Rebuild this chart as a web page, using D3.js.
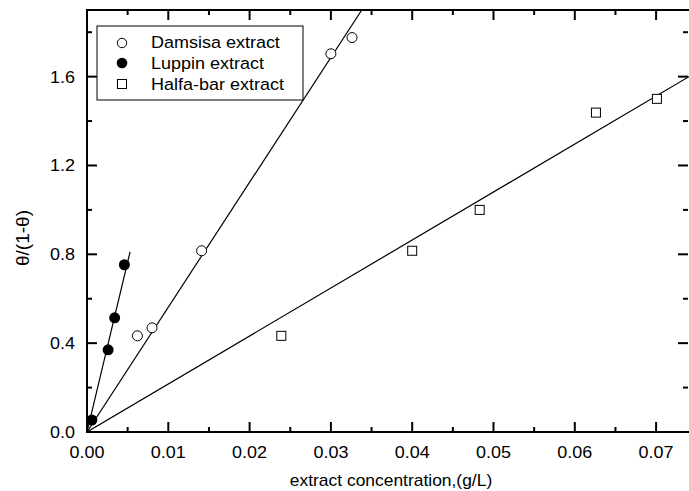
<!DOCTYPE html>
<html lang="en">
<head>
<meta charset="utf-8">
<title>theta plot</title>
<script src="https://d3js.org/d3.v7.min.js"></script>
<style>
  body{margin:0;background:#fff;font-family:"Liberation Sans",Arial,sans-serif;}
  text{fill:#000;}
</style>
</head>
<body>
<div id="chart"></div>
<script>
// data
var damsisaX = [0.0062, 0.0080, 0.0141, 0.0300, 0.0326]
var damsisaY = [0.433, 0.469, 0.816, 1.703, 1.776]
var luppinX = [0.0006, 0.0026, 0.0034, 0.0046]
var luppinY = [0.054, 0.37, 0.514, 0.753]
var halfaX = [0.0239, 0.0400, 0.0483, 0.0626, 0.0701]
var halfaY = [0.433, 0.816, 1.0, 1.438, 1.50]
// fitted lines (start, end)
var damsisaFitX = [0, 0.0338], damsisaFitY = [0, 1.9]
var luppinFitX = [0, 0.0053], luppinFitY = [0, 0.811]
var halfaFitX = [0, 0.0745], halfaFitY = [0, 1.61]
var xTicks = [0, 0.01, 0.02, 0.03, 0.04, 0.05, 0.06, 0.07]
var yTicks = [0, 0.4, 0.8, 1.2, 1.6]
var legendLabels = ["Damsisa extract", "Luppin extract", "Halfa-bar extract"]

var w = 689, h = 491
var pLeft = 87, pTop = 10, pRight = 690, pBottom = 432
var stretch = 1.09 // the original text is a bit wider than it is tall

var svg = d3.select("#chart").append("svg").attr("width", w).attr("height", h)
var x = d3.scaleLinear().domain([0, 0.07417]).range([pLeft, pRight])
var y = d3.scaleLinear().domain([0, 1.9]).range([pBottom, pTop])

svg.append("clipPath").attr("id", "clip").append("rect")
  .attr("x", pLeft).attr("y", pTop).attr("width", pRight - pLeft).attr("height", pBottom - pTop)

var xMinor = d3.range(0.005, 0.074, 0.01)
var yMinor = d3.range(0.2, 1.9, 0.4)

function ticks(draw, major, minor) {
  var g = svg.append("g").attr("stroke", "#000").attr("stroke-width", 2)
  major.forEach(function(v){ draw(g, v, 10) })
  minor.forEach(function(v){ draw(g, v, 5) })
}
ticks(function(g, v, len){
  g.append("line").attr("x1", x(v)).attr("x2", x(v)).attr("y1", pBottom).attr("y2", pBottom - len)
  g.append("line").attr("x1", x(v)).attr("x2", x(v)).attr("y1", pTop).attr("y2", pTop + len)
}, xTicks, xMinor)
ticks(function(g, v, len){
  g.append("line").attr("y1", y(v)).attr("y2", y(v)).attr("x1", pLeft).attr("x2", pLeft + len)
  g.append("line").attr("y1", y(v)).attr("y2", y(v)).attr("x1", pRight - 2).attr("x2", pRight - 2 - len)
}, yTicks, yMinor)

svg.append("rect").attr("x", pLeft).attr("y", pTop).attr("width", pRight - pLeft).attr("height", pBottom - pTop)
  .attr("fill", "none").attr("stroke", "#000").attr("stroke-width", 2)

function stext(g, tx, ty, anchor, size, str) {
  return g.append("text")
    .attr("transform", "translate(" + tx + "," + ty + ") scale(" + stretch + ",1)")
    .attr("text-anchor", anchor).attr("font-size", size).text(str)
}

var xl = svg.append("g")
xTicks.forEach(function(d){ stext(xl, x(d), 458, "middle", 16.5, d3.format(".2f")(d)) })
var yl = svg.append("g")
yTicks.forEach(function(d){ stext(yl, 75, y(d) + 6, "end", 16.5, d3.format(".1f")(d)) })

stext(svg, 391, 486, "middle", 16, "extract concentration,(g/L)")
svg.append("text").attr("transform", "translate(29,238) rotate(-90)")
  .attr("text-anchor", "middle").attr("font-size", 19).text("θ/(1-θ)")

// fit lines
var line = d3.line().x(function(d){ return x(d[0]) }).y(function(d){ return y(d[1]) })
var fits = [[damsisaFitX, damsisaFitY], [luppinFitX, luppinFitY], [halfaFitX, halfaFitY]]
svg.append("g").attr("clip-path", "url(#clip)").selectAll("path").data(fits).enter().append("path")
  .attr("d", function(f){ return line(d3.zip(f[0], f[1])) })
  .attr("fill", "none").attr("stroke", "#000").attr("stroke-width", 1.2)

// markers
svg.append("g").selectAll("circle").data(d3.zip(damsisaX, damsisaY)).enter().append("circle")
  .attr("cx", function(d){ return x(d[0]) }).attr("cy", function(d){ return y(d[1]) })
  .attr("r", 5).attr("fill", "#fff").attr("stroke", "#000").attr("stroke-width", 1)
svg.append("g").selectAll("circle").data(d3.zip(luppinX, luppinY)).enter().append("circle")
  .attr("cx", function(d){ return x(d[0]) }).attr("cy", function(d){ return y(d[1]) })
  .attr("r", 5.5).attr("fill", "#000")
svg.append("g").selectAll("rect").data(d3.zip(halfaX, halfaY)).enter().append("rect")
  .attr("x", function(d){ return x(d[0]) - 4.5 }).attr("y", function(d){ return y(d[1]) - 4.5 })
  .attr("width", 9).attr("height", 9).attr("fill", "#fff").attr("stroke", "#000").attr("stroke-width", 1)

// legend
var lg = svg.append("g")
lg.append("rect").attr("x", 97).attr("y", 26).attr("width", 206).attr("height", 74)
  .attr("fill", "#fff").attr("stroke", "#000").attr("stroke-width", 1)
var rowY = [43, 63, 84]
var rowBase = [48, 69, 90]
lg.append("circle").attr("cx", 122).attr("cy", rowY[0]).attr("r", 4.7)
  .attr("fill", "#fff").attr("stroke", "#000")
lg.append("circle").attr("cx", 122).attr("cy", rowY[1]).attr("r", 5.3).attr("fill", "#000")
lg.append("rect").attr("x", 117.5).attr("y", rowY[2] - 4.5).attr("width", 9).attr("height", 9)
  .attr("fill", "#fff").attr("stroke", "#000")
legendLabels.forEach(function(d, i){ stext(lg, 151, rowBase[i], "start", 16.5, d) })
</script>
</body>
</html>
